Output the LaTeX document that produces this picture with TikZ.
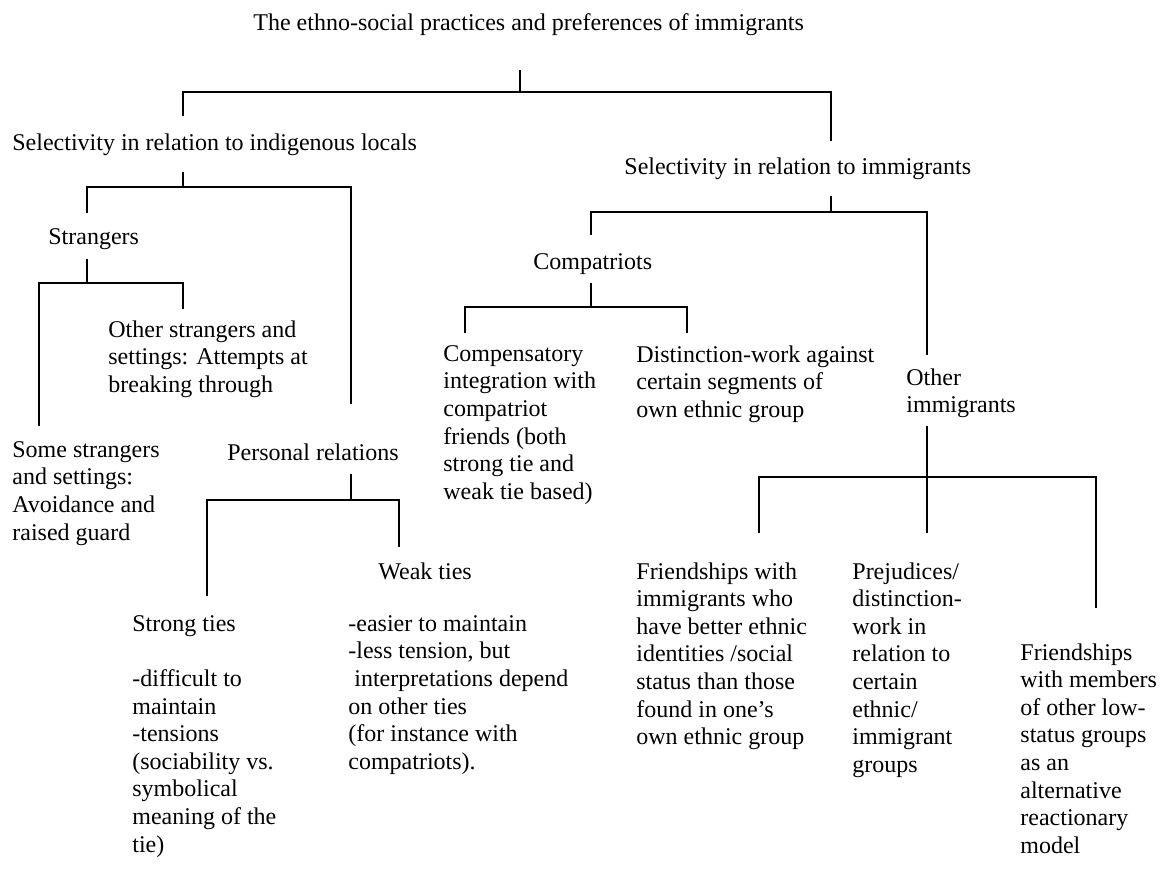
\documentclass[tikz,border=0pt]{standalone}
\usepackage{fontspec}
\setmainfont{Liberation Serif}
\newcommand\treefont{\fontsize{12}{13.8}\selectfont}
\begin{document}
\begin{tikzpicture}[x=0.5pt,y=-0.5pt,
  txt/.style={anchor=north west, inner sep=0pt, align=left, font=\treefont,
              execute at begin node=\strut},
  link/.style={line width=0.85pt, line cap=rect}]
\fill[white] (0,0) rectangle (1161,874);
\useasboundingbox (0,0) rectangle (1161,874);

% ---- texts (node top = first line centre - 12) ----
\node[txt] (root)   at (253,11)  {The ethno-social practices and preferences of immigrants};
\node[txt] (locals) at (12,131)  {Selectivity in relation to indigenous locals};
\node[txt] (immig)  at (624,155) {Selectivity in relation to immigrants};
\node[txt] (strang) at (48,225)  {Strangers};
\node[txt] (compat) at (533,250) {Compatriots};
\node[txt] (othstr) at (108,320) {Other strangers and\\settings: Attempts at\\breaking through};
\node[txt] (somestr) at (12,441) {Some strangers\\and settings:\\Avoidance and\\raised guard};
\node[txt] (pers)   at (227,441) {Personal relations};
\node[txt] (compens) at (443,345) {Compensatory\\integration with\\compatriot\\friends (both\\strong tie and\\weak tie based)};
\node[txt] (distw)  at (636,345) {Distinction-work against\\certain segments of\\own ethnic group};
\node[txt] (othimm) at (906,368) {Other\\immigrants};
\node[txt] (weak)   at (378,560) {Weak ties};
\node[txt] (weakd)  at (348,615) {-easier to maintain\\-less tension, but\\~interpretations depend\\on other ties\\(for instance with\\compatriots).};
\node[txt] (strong) at (132,615) {Strong ties\\\\-difficult to\\maintain\\-tensions\\(sociability vs.\\symbolical\\meaning of the\\tie)};
\node[txt] (friend) at (636,562) {Friendships with\\immigrants who\\have better ethnic\\identities /social\\status than those\\found in one’s\\own ethnic group};
\node[txt] (prej)   at (852,562) {Prejudices/\\distinction-\\work in\\relation to\\certain\\ethnic/\\immigrant\\groups};
\node[txt] (lowst)  at (1020,643) {Friendships\\with members\\of other low-\\status groups\\as an\\alternative\\reactionary\\model};

% ---- bracket points ----
\coordinate (r0) at (520,71);   \coordinate (r1) at (520,92);
\coordinate (rL) at (183,92);   \coordinate (rR) at (831,92);
\coordinate (rLe) at (183,115); \coordinate (rRe) at (831,140);

\coordinate (l0) at (183,173);  \coordinate (l1) at (183,187);
\coordinate (lL) at (87,187);   \coordinate (lR) at (351,187);
\coordinate (lLe) at (87,212);  \coordinate (lRe) at (351,403);

\coordinate (s0) at (87,260);   \coordinate (s1) at (87,283);
\coordinate (sL) at (39,283);   \coordinate (sR) at (183,283);
\coordinate (sLe) at (39,425);  \coordinate (sRe) at (183,308);

\coordinate (p0) at (351,475);  \coordinate (p1) at (351,500);
\coordinate (pL) at (207,500);  \coordinate (pR) at (399,500);
\coordinate (pLe) at (207,595); \coordinate (pRe) at (399,546);

\coordinate (i0) at (831,197);  \coordinate (i1) at (831,212);
\coordinate (iL) at (591,212);  \coordinate (iR) at (927,212);
\coordinate (iLe) at (591,234); \coordinate (iRe) at (927,354);

\coordinate (c0) at (591,284);  \coordinate (c1) at (591,307);
\coordinate (cL) at (465,307);  \coordinate (cR) at (687,307);
\coordinate (cLe) at (465,332); \coordinate (cRe) at (687,332);

\coordinate (o0) at (927,427);  \coordinate (o1) at (927,477);
\coordinate (oL) at (759,477);  \coordinate (oR) at (1096,477);
\coordinate (oLe) at (759,532); \coordinate (oMe) at (927,532);
\coordinate (oRe) at (1096,607);

% ---- connectors ----
\draw[link] (r0) -- (r1);
\draw[link] (rLe) -- (rL) -- (rR) -- (rRe);
\draw[link] (l0) -- (l1);
\draw[link] (lLe) -- (lL) -- (lR) -- (lRe);
\draw[link] (s0) -- (s1);
\draw[link] (sLe) -- (sL) -- (sR) -- (sRe);
\draw[link] (p0) -- (p1);
\draw[link] (pLe) -- (pL) -- (pR) -- (pRe);
\draw[link] (i0) -- (i1);
\draw[link] (iLe) -- (iL) -- (iR) -- (iRe);
\draw[link] (c0) -- (c1);
\draw[link] (cLe) -- (cL) -- (cR) -- (cRe);
\draw[link] (o0) -- (oMe);
\draw[link] (oLe) -- (oL) -- (oR) -- (oRe);
\end{tikzpicture}
\end{document}
